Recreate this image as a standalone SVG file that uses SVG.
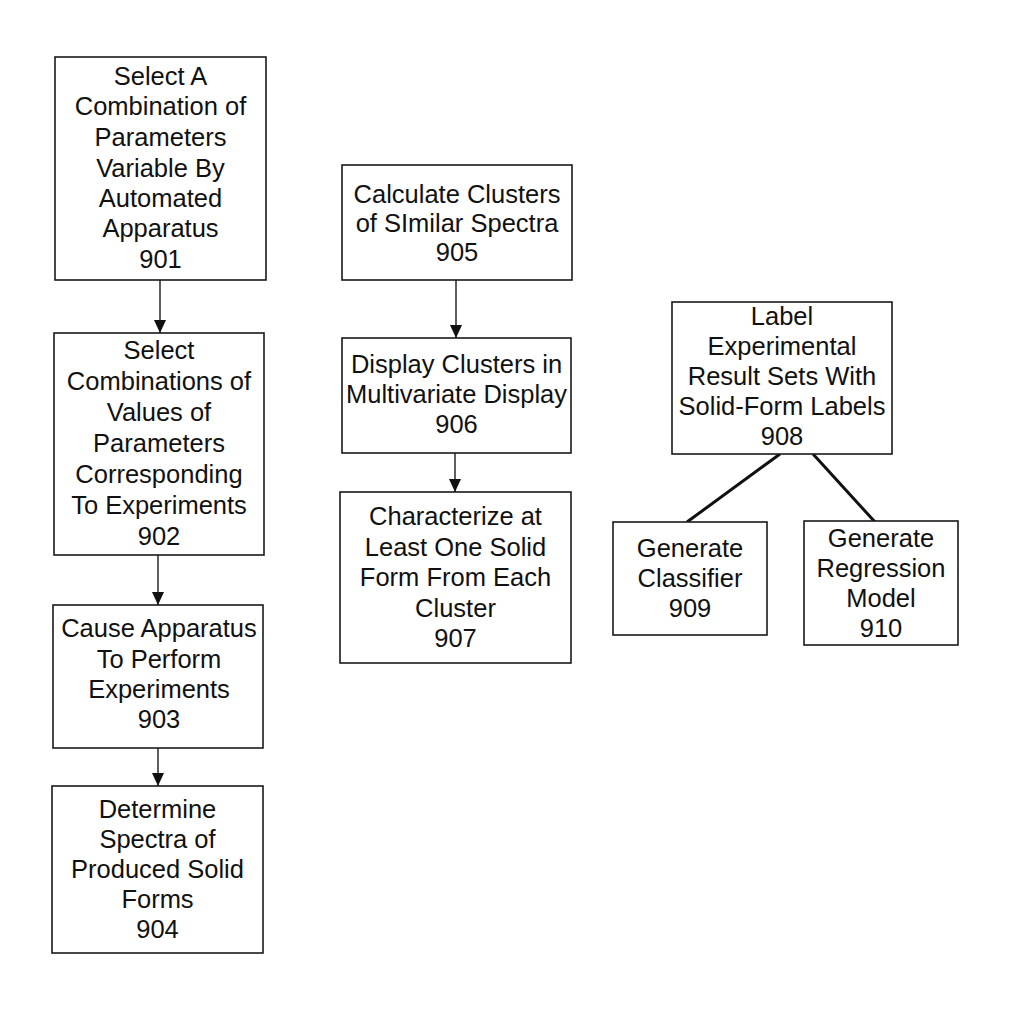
<svg xmlns="http://www.w3.org/2000/svg" width="1015" height="1012" viewBox="0 0 1015 1012">
<defs>
<style>
.box{fill:#fff;stroke:#1a1a1a;stroke-width:1.6}
.t{font-family:"Liberation Sans",Arial,sans-serif;font-size:25.5px;fill:#111;text-anchor:middle}
.arr{stroke:#1a1a1a;stroke-width:1.4;fill:none}
.ln{stroke:#111;stroke-width:3;fill:none}
</style>
<marker id="ah" markerUnits="userSpaceOnUse" markerWidth="12" markerHeight="13" refX="6" refY="13" orient="auto-start-reverse" viewBox="0 0 12 13">
<path d="M0,0 L12,0 L6,13 Z" fill="#111" transform="rotate(0)"/>
</marker>
<marker id="a2" markerUnits="userSpaceOnUse" markerWidth="14" markerHeight="14" refX="13" refY="6" orient="auto" viewBox="0 0 14 12">
<path d="M0,0 L13,6 L0,12 Z" fill="#111"/>
</marker>
</defs>
<rect width="1015" height="1012" fill="#fff"/>

<g id="connectors">
<line class="arr" x1="160" y1="280" x2="160" y2="333" marker-end="url(#a2)"/>
<line class="arr" x1="158" y1="555" x2="158" y2="605" marker-end="url(#a2)"/>
<line class="arr" x1="158" y1="748" x2="158" y2="786" marker-end="url(#a2)"/>
<line class="arr" x1="456" y1="280" x2="456" y2="338" marker-end="url(#a2)"/>
<line class="arr" x1="455" y1="453" x2="455" y2="492" marker-end="url(#a2)"/>
<line class="ln" x1="780" y1="454" x2="687" y2="522"/>
<line class="ln" x1="813" y1="454" x2="875" y2="522"/>
</g>

<g id="n901">
<rect class="box" x="55" y="57" width="211" height="223"/>
<text class="t" x="160.5" y="85">Select A</text>
<text class="t" x="160.5" y="115">Combination of</text>
<text class="t" x="160.5" y="146">Parameters</text>
<text class="t" x="160.5" y="177">Variable By</text>
<text class="t" x="160.5" y="207">Automated</text>
<text class="t" x="160.5" y="237">Apparatus</text>
<text class="t" x="160.5" y="268">901</text>
</g>

<g id="n902">
<rect class="box" x="54" y="333" width="210" height="222"/>
<text class="t" x="159" y="359">Select</text>
<text class="t" x="159" y="390">Combinations of</text>
<text class="t" x="159" y="421">Values of</text>
<text class="t" x="159" y="452">Parameters</text>
<text class="t" x="159" y="483">Corresponding</text>
<text class="t" x="159" y="514">To Experiments</text>
<text class="t" x="159" y="545">902</text>
</g>

<g id="n903">
<rect class="box" x="53" y="605" width="210" height="143"/>
<text class="t" x="159" y="637">Cause Apparatus</text>
<text class="t" x="159" y="668">To Perform</text>
<text class="t" x="159" y="698">Experiments</text>
<text class="t" x="159" y="728">903</text>
</g>

<g id="n904">
<rect class="box" x="52" y="786" width="211" height="167"/>
<text class="t" x="157.5" y="818">Determine</text>
<text class="t" x="157.5" y="848">Spectra of</text>
<text class="t" x="157.5" y="878">Produced Solid</text>
<text class="t" x="157.5" y="908">Forms</text>
<text class="t" x="157.5" y="938">904</text>
</g>

<g id="n905">
<rect class="box" x="342" y="165" width="230" height="115"/>
<text class="t" x="457" y="203">Calculate Clusters</text>
<text class="t" x="457" y="232">of SImilar Spectra</text>
<text class="t" x="457" y="261">905</text>
</g>

<g id="n906">
<rect class="box" x="342" y="338" width="229" height="115"/>
<text class="t" x="456.5" y="373">Display Clusters in</text>
<text class="t" x="456.5" y="403">Multivariate Display</text>
<text class="t" x="456.5" y="433">906</text>
</g>

<g id="n907">
<rect class="box" x="340" y="492" width="231" height="171"/>
<text class="t" x="455.5" y="525">Characterize at</text>
<text class="t" x="455.5" y="556">Least One Solid</text>
<text class="t" x="455.5" y="586">Form From Each</text>
<text class="t" x="455.5" y="617">Cluster</text>
<text class="t" x="455.5" y="647">907</text>
</g>

<g id="n908">
<rect class="box" x="672" y="302" width="220" height="152"/>
<text class="t" x="782" y="325">Label</text>
<text class="t" x="782" y="355">Experimental</text>
<text class="t" x="782" y="385">Result Sets With</text>
<text class="t" x="782" y="415">Solid-Form Labels</text>
<text class="t" x="782" y="445">908</text>
</g>

<g id="n909">
<rect class="box" x="613" y="522" width="154" height="113"/>
<text class="t" x="690" y="557">Generate</text>
<text class="t" x="690" y="587">Classifier</text>
<text class="t" x="690" y="617">909</text>
</g>

<g id="n910">
<rect class="box" x="804" y="521" width="154" height="124"/>
<text class="t" x="881" y="547">Generate</text>
<text class="t" x="881" y="577">Regression</text>
<text class="t" x="881" y="607">Model</text>
<text class="t" x="881" y="637">910</text>
</g>
</svg>
